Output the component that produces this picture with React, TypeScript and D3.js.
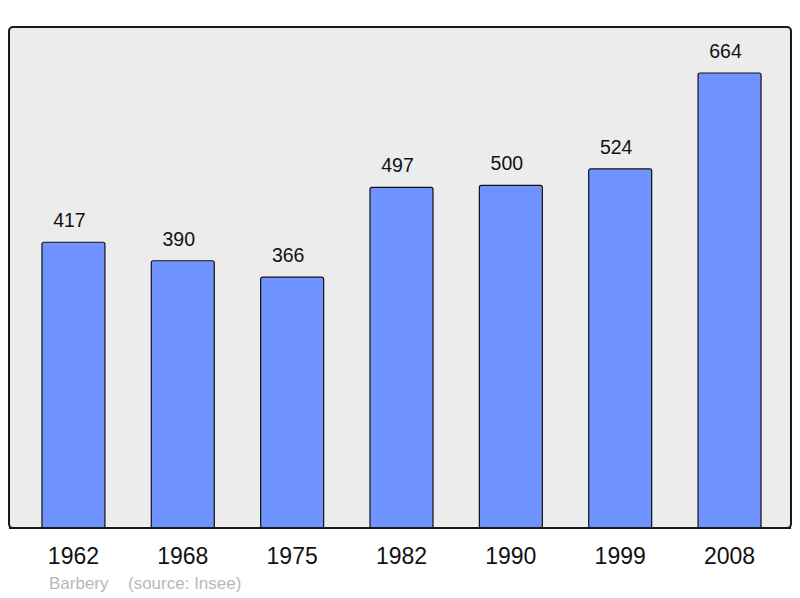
import React from "react";
import * as d3 from "d3";

const years = ["1962", "1968", "1975", "1982", "1990", "1999", "2008"];
const population = [417, 390, 366, 497, 500, 524, 664];
const place = "Barbery";
const source = "(source: Insee)";

const App = () => {
  const svgRef = React.useRef<SVGSVGElement>(null);

  React.useEffect(() => {
    const svg = d3.select(svgRef.current);
    svg.selectAll("*").remove();
    const font = "'Liberation Sans', Arial, sans-serif";

    const x = d3
      .scaleBand()
      .domain(years)
      .range([1.5, 801.5])
      .paddingInner(0.424)
      .paddingOuter(0.37);

    const y = d3.scaleLinear().domain([0, 664]).range([528, 73]);

    svg
      .append("rect")
      .attr("x", 9)
      .attr("y", 27)
      .attr("width", 782)
      .attr("height", 501)
      .attr("rx", 4)
      .attr("fill", "#ececec")
      .attr("stroke", "#1a1a1a")
      .attr("stroke-width", 2);

    const data = years.map((yr, i) => ({ yr, v: population[i] }));

    svg
      .selectAll(".bar")
      .data(data)
      .enter()
      .append("rect")
      .attr("class", "bar")
      .attr("x", (d) => x(d.yr)!)
      .attr("y", (d) => y(d.v))
      .attr("width", x.bandwidth())
      .attr("height", (d) => y(0) - y(d.v))
      .attr("rx", 2)
      .attr("fill", "#7094ff")
      .attr("stroke", "#111")
      .attr("stroke-width", 1.2);

    // redraw bottom border over bars
    svg
      .append("line")
      .attr("x1", 9)
      .attr("x2", 791)
      .attr("y1", 528)
      .attr("y2", 528)
      .attr("stroke", "#1a1a1a")
      .attr("stroke-width", 2);

    svg
      .selectAll(".val")
      .data(data)
      .enter()
      .append("text")
      .attr("x", (d) => x(d.yr)! + x.bandwidth() / 2 - 4)
      .attr("y", (d) => y(d.v) - 15)
      .attr("text-anchor", "middle")
      .attr("font-family", font)
      .attr("font-size", 19.5)
      .attr("fill", "#111")
      .text((d) => d.v);

    svg
      .selectAll(".yr")
      .data(data)
      .enter()
      .append("text")
      .attr("x", (d) => x(d.yr)! + x.bandwidth() / 2)
      .attr("y", 564)
      .attr("text-anchor", "middle")
      .attr("font-family", font)
      .attr("font-size", 23)
      .attr("fill", "#111")
      .text((d) => d.yr);

    svg
      .append("text")
      .attr("x", 49)
      .attr("y", 589)
      .attr("font-family", font)
      .attr("font-size", 17)
      .attr("fill", "#b8b8b8")
      .text(place);

    svg
      .append("text")
      .attr("x", 128)
      .attr("y", 589)
      .attr("font-family", font)
      .attr("font-size", 17)
      .attr("fill", "#b8b8b8")
      .text(source);
  }, []);

  return (
    <svg
      ref={svgRef}
      width={800}
      height={598}
      style={{ position: "absolute", left: 0, top: 0, background: "#fff" }}
    />
  );
};

export default App;
